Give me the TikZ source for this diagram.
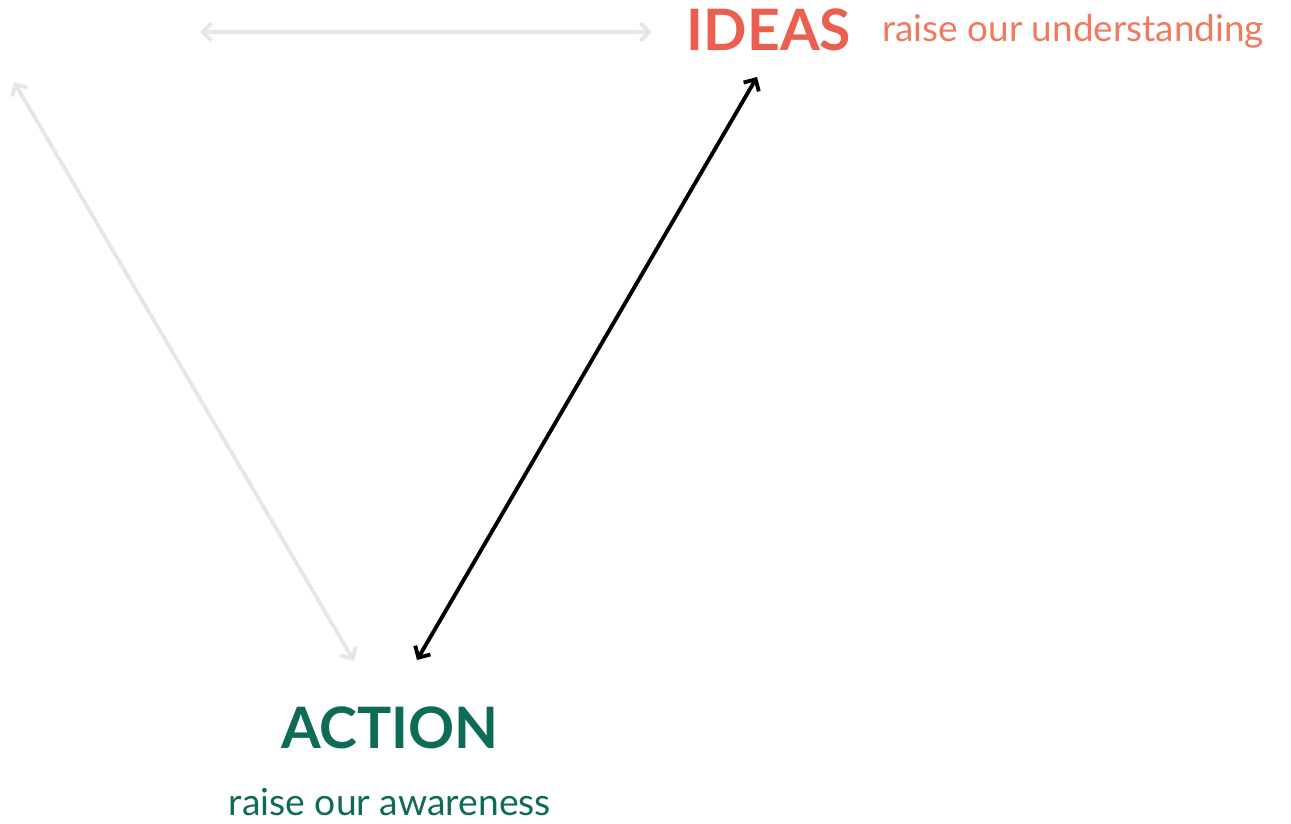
\documentclass[tikz,border=0pt]{standalone}
\usepackage{fontspec}
\setmainfont{Lato}
\usetikzlibrary{arrows.meta}
\definecolor{ideared}{HTML}{EA5F4F}
\definecolor{ideaorange}{HTML}{EF7A5E}
\definecolor{actgreen}{HTML}{0E6B55}
\definecolor{lightgray}{HTML}{E6E6E6}
\tikzset{
  link/.style={{Straight Barb[length=5pt,width=10pt]}-{Straight Barb[length=5pt,width=10pt]}, line width=2.2pt},
  big/.style={font=\fontsize{32.5}{33}\selectfont\bfseries, inner sep=0pt},
  small/.style={font=\fontsize{21}{21}\selectfont, inner sep=0pt}
}
\begin{document}
\begin{tikzpicture}[x=0.02cm,y=-0.02cm]
    \useasboundingbox (0,0) rectangle (1291,824);
    \node[big, text=ideared] (ideas) at (769,30) {IDEAS};
    \node[small, text=ideaorange, anchor=west] (under) at (882,31) {raise our understanding};
    \node[big, text=actgreen] (action) at (390,728) {ACTION};
    \node[small, text=actgreen, font=\fontsize{21.2}{21}\selectfont] (aware) at (390,802) {raise our awareness};
    \coordinate (topl) at (200,32);
    \coordinate (topr) at (652,32);
    \coordinate (farl) at (14,82);
    \coordinate (actl) at (354,661);
    \coordinate (idea) at (757,77);
    \coordinate (actr) at (417,660);
    \draw[link, lightgray] (topl) -- (topr);
    \draw[link, lightgray] (farl) -- (actl);
    \draw[link, black] (idea) -- (actr);
\end{tikzpicture}
\end{document}
